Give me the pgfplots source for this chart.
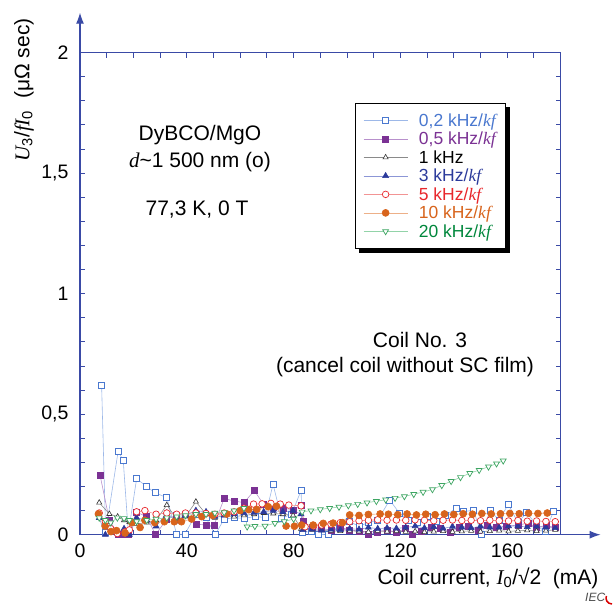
\documentclass[border=0pt]{standalone}
\usepackage{fontspec}
\setmainfont{Liberation Sans}
\newfontfamily\tnr{Liberation Serif}
\usepackage{pgfplots}
\pgfplotsset{compat=1.18}
\usetikzlibrary{arrows.meta,backgrounds}

\definecolor{axisblue}{HTML}{3A4AA6}
\definecolor{c02}{HTML}{4A78CF}\definecolor{l02}{HTML}{9DB8E8}
\definecolor{c05}{HTML}{7B3294}\definecolor{l05}{HTML}{B890CC}
\definecolor{c1}{HTML}{333333}\definecolor{l1}{HTML}{8A8A8A}
\definecolor{c3}{HTML}{2B3A9B}\definecolor{l3}{HTML}{8C96D6}
\definecolor{c5}{HTML}{E8262B}\definecolor{l5}{HTML}{F29494}
\definecolor{c10}{HTML}{D8641C}\definecolor{l10}{HTML}{EDB088}
\definecolor{c20}{HTML}{3DA562}\definecolor{l20}{HTML}{92D3A8}
\definecolor{t20}{HTML}{00873C}
\newcommand{\kf}{{\tnr\itshape kf}}

\pgfplotsset{
  base/.style={line width=0.6pt, mark size=3pt},
  s02/.style={base, color=l02, mark=square*, mark options={draw=c02, fill=white, line width=0.7pt}},
  s05/.style={base, color=l05, mark=square*, mark options={draw=c05, fill=c05}},
  s1/.style={base, color=l1, mark=triangle*, mark size=3pt, mark options={draw=c1, fill=white, line width=0.6pt}},
  s3/.style={base, color=l3, mark=triangle*, mark size=3.4pt, mark options={draw=c3, fill=c3}},
  s5/.style={base, color=l5, mark=*, mark size=3.3pt, mark options={draw=c5, fill=white, line width=0.7pt}},
  s10/.style={base, color=l10, mark=*, mark size=3.5pt, mark options={draw=c10, fill=c10}},
  s20/.style={base, color=l20, mark=triangle*, mark size=3.4pt, mark options={rotate=180, draw=c20, fill=white, line width=0.7pt}},
}

\begin{document}
\begin{tikzpicture}
\useasboundingbox (0pt,0pt) rectangle (615pt,608pt);
\begin{axis}[
  at={(80pt,73.3pt)}, anchor=south west,
  scale only axis, width=480.6pt, height=482pt,
  xmin=0, xmax=180, ymin=0, ymax=2,
  clip=false,
  axis line style={axisblue, line width=1.1pt},
  tick align=inside,
  tick style={axisblue, line width=1pt},
  major tick length=5pt, minor tick length=5pt,
  xtick={0,40,80,120,160},
  minor xtick={10,20,30,50,60,70,90,100,110,130,140,150,170},
  ytick={0,0.5,1,1.5,2},
  minor y tick num=4,
  /pgf/number format/assume math mode=true,
  /pgf/number format/use comma,
  ticklabel style={font=\fontsize{19.5}{21}\selectfont, text=black},
  xticklabel style={yshift=-6pt},
  yticklabel style={xshift=-8pt},
  legend cell align=left,
  legend style={name=leg, at={(axis description cs:0.572,0.896)}, anchor=north west,
    draw=black, line width=0.8pt, fill=white,
    font=\fontsize{17.5}{19}\selectfont, inner xsep=8pt, inner ysep=8pt,
    row sep=0.2pt,
    /tikz/every odd column/.append style={column sep=9pt, inner xsep=3pt},
    /tikz/every even column/.append style={inner xsep=1pt, inner ysep=1.2pt, text height=12.8pt, text depth=3.8pt}},
  legend image code/.code={\draw[line width=0.6pt, mark repeat=2, mark phase=2] plot coordinates {(0pt,0pt) (22pt,0pt) (44pt,0pt)};},
]
% 0,2 kHz
\addplot[s02] coordinates {
 (8.1,0.618) (9.6,0.010) (14.3,0.347) (16.2,0.307) (18.1,0.007) (21.2,0.232)
 (25.0,0.200) (28.1,0.174) (32.5,0.154) (36.2,0.002) (39.3,0.002) (43.4,0.085)
 (47.2,0.070) (50.6,0.000) (54.0,0.065) (57.7,0.070) (61.4,0.068) (65.5,0.075)
 (69.3,0.072) (72.3,0.209) (75.5,0.068) (79.2,0.085) (82.8,0.183)
 (83.3,0.008) (86.8,0.015) (89.3,0.000) (93.0,0.002) (97.0,0.030) (101.0,0.054)
 (104.5,0.035) (108.0,0.050) (111.5,0.060) (116.0,0.144) (119.6,0.090) (123.0,0.060)
 (126.5,0.050) (130.0,0.075) (133.5,0.055) (137.0,0.080) (140.8,0.110) (143.5,0.095)
 (147.3,0.102) (150.4,0.003) (153.6,0.100) (157.0,0.060) (160.4,0.127) (164.0,0.050)
 (167.3,0.091) (171.0,0.040) (174.2,0.012) (177.3,0.095)
};
\addlegendentry{\textcolor{c02}{0,2 kHz/\kf}}
% 0,5 kHz
\addplot[s05] coordinates {
 (7.5,0.248) (11.0,0.060) (14.4,0.000) (16.5,0.000) (18.1,0.000) (21.2,0.093)
 (25.0,0.075) (28.3,0.000) (32.5,0.065) (36.2,0.080) (39.5,0.085) (43.4,0.044)
 (47.2,0.040) (50.2,0.040) (54.0,0.150) (57.7,0.140) (61.4,0.133) (65.3,0.183)
 (68.8,0.125) (72.4,0.115) (76.2,0.110) (79.9,0.103) (82.8,0.123)
 (83.6,0.054) (87.0,0.030) (90.5,0.025) (94.0,0.020) (97.5,0.030) (101.0,0.020)
 (104.5,0.015) (108.0,0.000) (111.5,0.012) (115.0,0.020) (118.5,0.010) (122.0,0.025)
 (124.6,0.000) (128.0,0.015) (131.5,0.030) (135.0,0.025) (138.5,0.010) (142.0,0.030)
 (145.5,0.035) (149.0,0.020) (152.5,0.040) (156.0,0.030) (159.5,0.035) (164.0,0.040)
 (167.8,0.048) (171.0,0.030) (174.5,0.038) (178.0,0.030)
};
\addlegendentry{\textcolor{c05}{0,5 kHz/\kf}}
% 1 kHz
\addplot[s1] coordinates {
 (7.2,0.133) (11.0,0.086) (14.1,0.075) (16.5,0.060) (18.5,0.052) (21.2,0.045)
 (25.0,0.050) (28.5,0.060) (32.5,0.123) (36.2,0.065) (39.5,0.075) (43.4,0.137)
 (47.2,0.085) (50.5,0.070) (54.0,0.080) (57.7,0.075) (61.4,0.080) (65.2,0.085)
 (68.8,0.090) (72.4,0.088) (76.0,0.085) (79.8,0.080) (82.8,0.024)
 (83.5,0.024) (87.0,0.020) (90.5,0.018) (94.0,0.016) (97.5,0.015) (101.0,0.017)
 (104.5,0.014) (108.0,0.012) (111.5,0.016) (115.0,0.013) (118.5,0.015) (122.0,0.012)
 (125.5,0.014) (129.0,0.011) (132.5,0.013) (136.0,0.015) (139.5,0.012) (143.0,0.014)
 (146.5,0.016) (150.0,0.013) (153.5,0.015) (157.0,0.017) (160.5,0.014) (164.0,0.016)
 (167.5,0.018) (171.0,0.015) (174.5,0.017) (178.0,0.020)
};
\addlegendentry{\textcolor{black}{1 kHz}}
% 3 kHz
\addplot[s3] coordinates {
 (7.2,0.070) (9.5,0.000) (11.5,0.030) (14.0,0.005) (16.5,0.025) (18.5,0.000)
 (21.2,0.070) (25.0,0.060) (28.5,0.035) (32.5,0.090) (36.2,0.055) (39.5,0.080)
 (43.4,0.100) (47.2,0.095) (50.5,0.075) (54.0,0.080) (57.7,0.085) (61.4,0.090)
 (65.2,0.092) (68.8,0.095) (72.4,0.100) (76.0,0.095) (79.8,0.100) (82.8,0.085)
 (83.6,0.020) (87.0,0.022) (90.5,0.018) (94.0,0.022) (97.5,0.020) (101.0,0.025)
 (104.5,0.022) (108.0,0.030) (111.5,0.025) (115.0,0.028) (118.5,0.026) (122.0,0.030)
 (125.5,0.036) (129.0,0.028) (132.5,0.032) (136.0,0.026) (139.5,0.034) (143.0,0.030)
 (146.5,0.028) (150.0,0.035) (153.5,0.030) (157.0,0.030) (160.5,0.036) (164.0,0.036)
 (167.5,0.032) (171.0,0.035) (174.5,0.030) (178.0,0.028)
};
\addlegendentry{\textcolor{c3}{3 kHz/\kf}}
% 5 kHz
\addplot[s5] coordinates {
 (7.2,0.090) (9.5,0.055) (11.5,0.025) (14.0,0.005) (16.9,0.012) (18.5,0.020)
 (21.2,0.095) (24.3,0.100) (28.5,0.085) (32.5,0.090) (36.2,0.085) (39.5,0.090)
 (43.4,0.090) (47.2,0.088) (50.5,0.085) (54.0,0.090) (57.7,0.095) (61.4,0.110)
 (65.0,0.127) (68.2,0.128) (71.5,0.130) (75.0,0.127) (78.2,0.123) (82.8,0.120)
 (84.3,0.033) (87.5,0.036) (90.5,0.040) (94.0,0.044) (97.5,0.050) (101.0,0.054)
 (104.5,0.058) (108.0,0.060) (111.5,0.062) (115.0,0.060) (118.5,0.061) (122.0,0.060)
 (125.5,0.062) (129.0,0.060) (132.5,0.058) (136.0,0.060) (139.5,0.061) (143.0,0.059)
 (146.5,0.060) (150.0,0.058) (153.5,0.060) (157.0,0.058) (160.5,0.057) (164.0,0.059)
 (167.5,0.056) (171.0,0.057) (174.5,0.055) (178.0,0.054)
};
\addlegendentry{\textcolor{c5}{5 kHz/\kf}}
% 10 kHz
\addplot[s10] coordinates {
 (6.9,0.086) (9.4,0.036) (11.6,0.013) (13.7,0.017) (16.9,0.007) (19.4,0.050)
 (22.5,0.030) (24.3,0.060) (28.0,0.050) (31.6,0.054) (35.3,0.054) (38.0,0.054)
 (41.8,0.065) (45.6,0.075) (49.7,0.080) (55.0,0.086) (60.0,0.100) (63.2,0.104)
 (66.2,0.105) (70.5,0.116) (73.6,0.118) (77.2,0.036) (80.3,0.035) (83.0,0.040)
 (87.3,0.040) (91.1,0.047) (94.8,0.048) (98.3,0.050) (101.0,0.082) (104.5,0.080)
 (108.0,0.084) (112.4,0.086) (115.5,0.085) (119.0,0.083) (122.5,0.086) (126.0,0.082)
 (129.5,0.085) (133.0,0.083) (136.5,0.086) (140.0,0.084) (143.5,0.087) (147.0,0.085)
 (150.5,0.088) (154.0,0.086) (157.5,0.087) (161.0,0.088) (164.5,0.087) (168.0,0.089)
 (171.5,0.088) (175.0,0.090)
};
\addlegendentry{\textcolor{c10}{10 kHz/\kf}}
% 20 kHz
\addplot[s20] coordinates {
 (7.2,0.070) (9.5,0.060) (11.5,0.050) (14.0,0.070) (16.5,0.068) (18.5,0.060)
 (21.2,0.055) (25.0,0.060) (28.5,0.065) (32.5,0.070) (36.2,0.075) (39.5,0.080)
 (43.4,0.085) (47.2,0.085) (50.5,0.090) (54.0,0.092) (57.7,0.100) (61.4,0.110)
 (62.6,0.033) (65.5,0.035) (69.3,0.036) (73.0,0.048) (76.5,0.055) (80.0,0.065)
 (83.2,0.095) (86.5,0.100) (90.0,0.105) (93.5,0.110) (97.0,0.115) (100.5,0.121)
 (104.0,0.127) (107.5,0.133) (111.0,0.139) (114.5,0.145) (118.0,0.152) (121.5,0.159)
 (125.0,0.168) (128.5,0.177) (132.0,0.188) (135.5,0.205) (139.0,0.222) (142.5,0.238)
 (146.0,0.255) (149.5,0.268) (153.0,0.282) (156.0,0.295) (158.5,0.307)
};
\addlegendentry{\textcolor{t20}{20 kHz/\kf}}

% arrow heads continuing the two main axes
\draw[axisblue, line width=1.1pt, -{Latex[length=11pt,width=8pt]}] (rel axis cs:1,0) -- ([xshift=40pt]rel axis cs:1,0);
\draw[axisblue, line width=1.1pt, -{Latex[length=11pt,width=8pt]}] (rel axis cs:0,1) -- ([yshift=40pt]rel axis cs:0,1);
\end{axis}

% solid shadow behind the legend box
\begin{pgfonlayer}{background}
\fill[black] ([xshift=4pt,yshift=-4pt]leg.south west) rectangle ([xshift=4pt,yshift=-4pt]leg.north east);
\end{pgfonlayer}

% axis titles
\node[anchor=east, font=\fontsize{21}{23}\selectfont] at (602pt,30pt)
  {Coil current, {\tnr\itshape I}\textsubscript{0}/√2\ \ (mA)};
\node[rotate=90, font=\fontsize{21}{23}\selectfont] at (24pt,518pt)
  {{\tnr\itshape U}\textsubscript{3}/{\tnr\itshape fI}\textsubscript{0}\ \ (μΩ sec)};

% sample and measurement notes
\begin{scope}[font=\fontsize{21}{23}\selectfont]
\node at (200pt,473pt) {DyBCO/MgO};
\node at (200pt,446pt) {{\tnr\itshape d}\char`~1 500 nm (o)};
\node at (197pt,398pt) {77,3 K, 0 T};
\node at (420pt,268pt) {Coil No. 3};
\node at (405pt,241pt) {(cancel coil without SC film)};
\end{scope}

% publisher mark
\node[anchor=west, font=\itshape\fontsize{12}{12}\selectfont, text=black!70, inner sep=0pt] at (585pt,11pt) {IEC};
\draw[red!85!black, line width=1.5pt] (612pt,4pt) arc[start angle=-90, end angle=-200, radius=6pt];
\end{tikzpicture}
\end{document}
